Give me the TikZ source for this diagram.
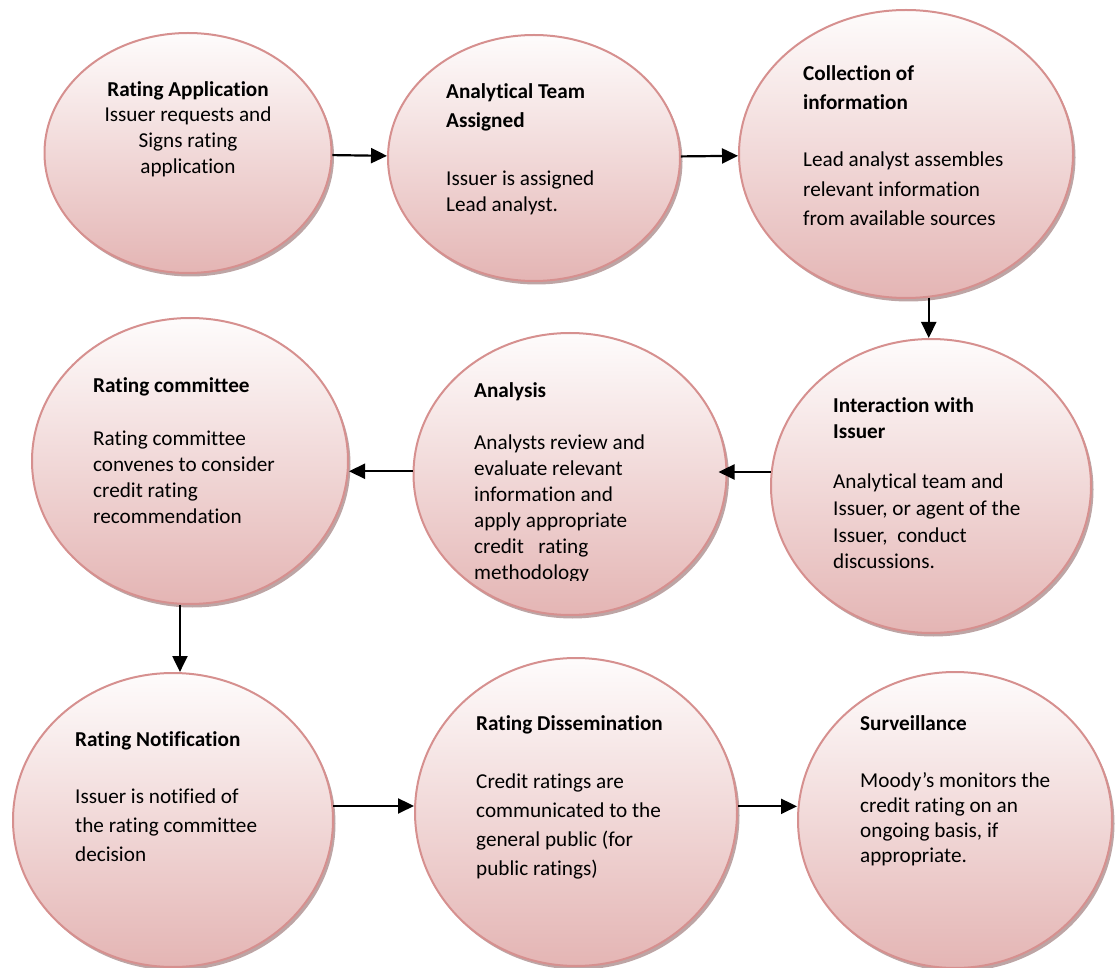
\documentclass[tikz,border=0pt]{standalone}
\usepackage{fontspec}
\setmainfont{Carlito}[Ligatures=NoCommon]
\usetikzlibrary{shapes.geometric,shadows,arrows.meta}

\definecolor{rim}{RGB}{214,144,143}
\definecolor{topc}{RGB}{254,252,252}
\definecolor{botc}{RGB}{228,181,180}
\definecolor{shadowc}{RGB}{145,105,105}

\tikzset{
  x=1pt, y=-1pt,
  stagecirc/.style={ellipse, draw=rim, line width=2pt,
    top color=topc, bottom color=botc, inner sep=0pt,
    drop shadow={shadow xshift=2.5pt, shadow yshift=-3.5pt,
                 fill=shadowc, opacity=0.6}},
  txt/.style={anchor=north west, inner sep=0pt, align=left, text=black},
  arr/.style={line width=2.2pt, -{Triangle[length=16pt,width=15pt]}},
}

\begin{document}
\begin{tikzpicture}
\useasboundingbox (0,0) rectangle (1120,968);
\clip (0,0) rectangle (1120,968);

% stages of the rating process
\node[stagecirc, minimum width=287pt, minimum height=240pt] (app)   at (188,153) {};
\node[stagecirc, minimum width=292pt, minimum height=246pt] (team)  at (534,158) {};
\node[stagecirc, minimum width=334pt, minimum height=288pt] (coll)  at (906,154) {};
\node[stagecirc, minimum width=320pt, minimum height=294pt] (inter) at (931,486) {};
\node[stagecirc, minimum width=313pt, minimum height=282pt] (anl)   at (570,474) {};
\node[stagecirc, minimum width=316pt, minimum height=286pt] (com)   at (190,461) {};
\node[stagecirc, minimum width=320pt, minimum height=294pt] (note)  at (173,820) {};
\node[stagecirc, minimum width=322pt, minimum height=308pt] (dis)   at (576,812) {};
\node[stagecirc, minimum width=314pt, minimum height=296pt] (surv)  at (955,820) {};

% texts
\node[txt, anchor=north, align=center, font={\fontsize{21.2}{25.7}\selectfont}] (tapp) at (188,81)
  {\textbf{Rating Application}\\Issuer requests and\\Signs rating\\application};
\node[txt, font={\fontsize{21.2}{26}\selectfont}] (tteam) at (446,83)
  {\textbf{Analytical Team}\\[3pt]\textbf{Assigned}\\[32pt]Issuer is assigned\\Lead analyst.};
\node[txt, font={\fontsize{21.2}{29.5}\selectfont}] (tcoll) at (803,65)
  {\textbf{Collection of}\\\textbf{information}\\[27.5pt]Lead analyst assembles\\relevant information\\from available sources};
\node[txt, font={\fontsize{21.2}{26.7}\selectfont}] (tinter) at (833,397)
  {\textbf{Interaction with}\\\textbf{Issuer}\\[23.3pt]Analytical team and\\Issuer, or agent of the\\Issuer,\ \ conduct\\discussions.};
\begin{scope}
  \clip (400,330) rectangle (740,580);
  \node[txt, font={\fontsize{21.2}{26.1}\selectfont}] (tanl) at (474,382)
    {\textbf{Analysis}\\[26pt]Analysts review and\\evaluate relevant\\information and\\apply appropriate\\credit\ \ \ rating\\methodology};
\end{scope}
\node[txt, font={\fontsize{21.2}{26}\selectfont}] (tcom) at (93,377)
  {\textbf{Rating committee}\\[27pt]Rating committee\\convenes to consider\\credit rating\\recommendation};
\node[txt, font={\fontsize{21.2}{29}\selectfont}] (tnote) at (75,731)
  {\textbf{Rating Notification}\\[28pt]Issuer is notified of\\the rating committee\\decision};
\node[txt, font={\fontsize{21.2}{29.3}\selectfont}] (tdis) at (476,715)
  {\textbf{Rating Dissemination}\\[28.7pt]Credit ratings are\\communicated to the\\general public (for\\public ratings)};
\node[txt, font={\fontsize{21.2}{25.3}\selectfont}] (tsurv) at (860,715)
  {\textbf{Surveillance}\\[31.7pt]Moody’s monitors the\\credit rating on an\\ongoing basis, if\\appropriate.};

% flow between stages
\draw[arr] (app) -- (team);
\draw[arr] (team) -- (coll);
\draw[arr] (coll.279) -- (coll.279 |- inter.north);
\draw[arr, shorten >=-9pt] (inter.175) -- (inter.175 -| anl.east);
\draw[arr] (anl.179) -- (anl.179 -| com.east);
\draw[arr] (com.266) -- (com.266 |- note.north);
\draw[arr] (note.5) -- (note.5 -| dis.west);
\draw[arr] (dis.2) -- (dis.2 -| surv.west);
\end{tikzpicture}
\end{document}
